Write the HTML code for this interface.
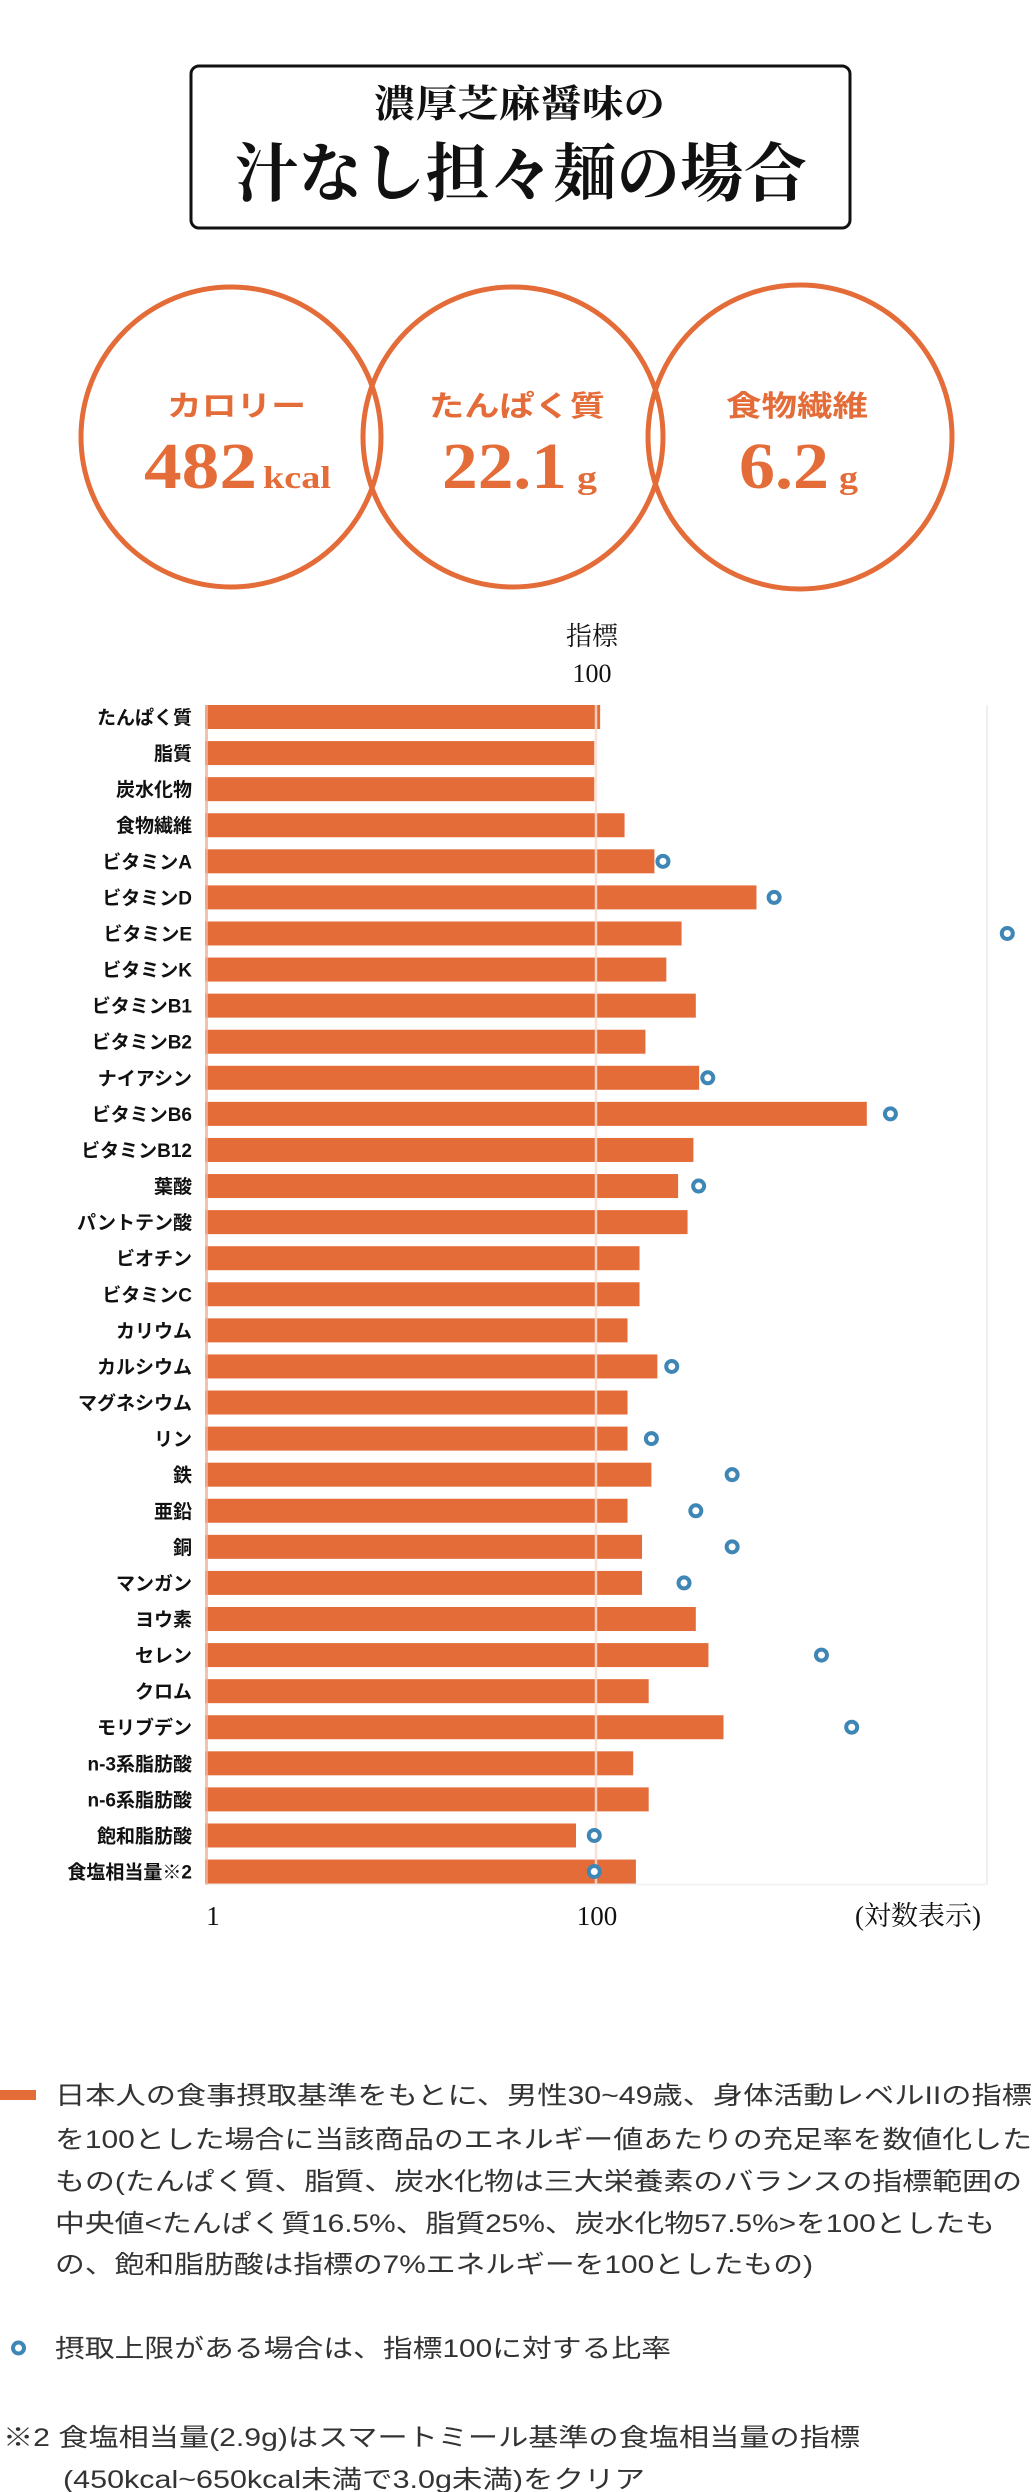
<!DOCTYPE html>
<html><head><meta charset="utf-8"><style>
html,body{margin:0;padding:0;background:#fff;}
svg{display:block;}
.sans{font-family:"Liberation Sans","Noto Sans CJK JP",sans-serif;}
.serif{font-family:"Liberation Serif","Noto Serif CJK SC",serif;}
</style></head><body>
<svg id="page" width="1032" height="2492" viewBox="0 0 1032 2492" xmlns="http://www.w3.org/2000/svg">
<g>
<rect x="191" y="66" width="659" height="162" rx="8" fill="#fff" stroke="#111" stroke-width="3"/>
<text x="374" y="117" class="serif" font-size="38" font-weight="700" fill="#111" textLength="291" lengthAdjust="spacingAndGlyphs">濃厚芝麻醤味の</text>
<text x="235" y="196" class="serif" font-size="64" font-weight="700" fill="#111" textLength="572" lengthAdjust="spacingAndGlyphs">汁なし担々麺の場合</text>
</g>
<g fill="#E46C39">
<circle cx="231" cy="437" r="150" fill="none" stroke="#E46C39" stroke-width="5"/>
<circle cx="513" cy="437" r="150" fill="none" stroke="#E46C39" stroke-width="5"/>
<circle cx="800" cy="437" r="152" fill="none" stroke="#E46C39" stroke-width="5"/>
<text x="167" y="416" class="sans" font-size="29" font-weight="700" textLength="139" lengthAdjust="spacingAndGlyphs">カロリー</text>
<text x="144" y="488" class="serif" font-size="66" font-weight="700" textLength="113" lengthAdjust="spacingAndGlyphs">482</text>
<text x="263" y="488" class="serif" font-size="32" font-weight="700" textLength="68" lengthAdjust="spacingAndGlyphs">kcal</text>
<text x="429" y="416" class="sans" font-size="29" font-weight="700" textLength="176" lengthAdjust="spacingAndGlyphs">たんぱく質</text>
<text x="442" y="488" class="serif" font-size="66" font-weight="700" textLength="125" lengthAdjust="spacingAndGlyphs">22.1</text>
<text x="577" y="488" class="serif" font-size="32" font-weight="700" textLength="20" lengthAdjust="spacingAndGlyphs">g</text>
<text x="726" y="416" class="sans" font-size="29" font-weight="700" textLength="142" lengthAdjust="spacingAndGlyphs">食物繊維</text>
<text x="739" y="488" class="serif" font-size="66" font-weight="700" textLength="90" lengthAdjust="spacingAndGlyphs">6.2</text>
<text x="839" y="488" class="serif" font-size="32" font-weight="700" textLength="19" lengthAdjust="spacingAndGlyphs">g</text>
</g>
<g fill="#111">
<text x="592" y="645" class="serif" font-size="26" text-anchor="middle">指標</text>
<text x="592" y="682" class="serif" font-size="26" text-anchor="middle">100</text>
</g>
<g id="chart"></g>
<g fill="#111">
<text x="213" y="1925" class="serif" font-size="27" text-anchor="middle">1</text>
<text x="597" y="1925" class="serif" font-size="27" text-anchor="middle">100</text>
<text x="918" y="1925" class="serif" font-size="27" text-anchor="middle">(対数表示)</text>
</g>
<g fill="#333" class="sans">
<rect x="0" y="2090" width="36" height="10" fill="#E46C39"/>
<text x="55" y="2104" font-size="25" textLength="977" lengthAdjust="spacingAndGlyphs">日本人の食事摂取基準をもとに、男性30~49歳、身体活動レベルIIの指標</text>
<text x="55" y="2148" font-size="25" textLength="977" lengthAdjust="spacingAndGlyphs">を100とした場合に当該商品のエネルギー値あたりの充足率を数値化した</text>
<text x="55" y="2190" font-size="25" textLength="967" lengthAdjust="spacingAndGlyphs">もの(たんぱく質、脂質、炭水化物は三大栄養素のバランスの指標範囲の</text>
<text x="55" y="2232" font-size="25" textLength="940" lengthAdjust="spacingAndGlyphs">中央値&lt;たんぱく質16.5%、脂質25%、炭水化物57.5%&gt;を100としたも</text>
<text x="55" y="2273" font-size="25" textLength="758" lengthAdjust="spacingAndGlyphs">の、飽和脂肪酸は指標の7%エネルギーを100としたもの)</text>
<circle cx="18.5" cy="2348" r="5.5" fill="#fff" stroke="#3E86B5" stroke-width="4"/>
<text x="55" y="2357" font-size="25" textLength="616" lengthAdjust="spacingAndGlyphs">摂取上限がある場合は、指標100に対する比率</text>
<text x="3" y="2446" font-size="25" textLength="857" lengthAdjust="spacingAndGlyphs">※2 食塩相当量(2.9g)はスマートミール基準の食塩相当量の指標</text>
<text x="63" y="2488" font-size="25" textLength="582" lengthAdjust="spacingAndGlyphs">(450kcal~650kcal未満で3.0g未満)をクリア</text>
</g>
</svg>
<script>
const categories = ["たんぱく質","脂質","炭水化物","食物繊維","ビタミンA","ビタミンD","ビタミンE","ビタミンK","ビタミンB1","ビタミンB2","ナイアシン","ビタミンB6","ビタミンB12","葉酸","パントテン酸","ビオチン","ビタミンC","カリウム","カルシウム","マグネシウム","リン","鉄","亜鉛","銅","マンガン","ヨウ素","セレン","クロム","モリブデン","n-3系脂肪酸","n-6系脂肪酸","飽和脂肪酸","食塩相当量※2"];
const barValues = [105,98,98,140,199,662,274,229,324,179,337,2428,315,263,294,167,167,145,206,145,145,192,145,172,172,324,376,186,449,155,186,79,160];
const upperLimitValues = [null,null,null,null,220,815,12700,null,null,null,373,3206,null,335,null,null,null,null,244,null,192,497,324,497,282,null,1423,null,2032,null,null,98,98];
const tickValues = [1,100,10000];

const NS = "http://www.w3.org/2000/svg";
const X0 = 205, DEC = 195.5, TOP = 705, PITCH = 36.08, BH = 24;
function xScale(v){ return X0 + DEC * Math.log10(v); }
function yScale(i){ return TOP + PITCH * i; }
const chart = document.getElementById("chart");
function mk(tag, attrs){ const e = document.createElementNS(NS, tag); for (const k in attrs) e.setAttribute(k, attrs[k]); return e; }

const bottom = yScale(categories.length - 1) + BH + 1;
const grid = mk("line", {x1: xScale(tickValues[2]), x2: xScale(tickValues[2]), y1: TOP, y2: bottom, stroke: "#efefef", "stroke-width": 2});


chart.appendChild(grid);
const base = mk("line", {x1: X0, x2: xScale(tickValues[2]), y1: bottom, y2: bottom, stroke: "#f3f3f3", "stroke-width": 2});


chart.appendChild(base);

categories.forEach((c, i) => {
  const y = yScale(i);
  const lbl = mk("text", {x: 192, y: y + BH/2 + 7, "text-anchor": "end", "font-size": 19, "font-weight": 700, fill: "#111", class: "sans"});
  lbl.textContent = c;
  
  
  chart.appendChild(lbl);
  const bar = mk("rect", {x: xScale(tickValues[0]), y: y, width: xScale(barValues[i]) - xScale(tickValues[0]), height: BH, fill: "#E46C39"});
  
  
  chart.appendChild(bar);
});

const strip = mk("line", {x1: X0 + 1.5, x2: X0 + 1.5, y1: TOP, y2: bottom, stroke: "#f0b49a", "stroke-width": 3, opacity: 0.8});


chart.appendChild(strip);
const g100 = mk("line", {x1: xScale(tickValues[1]), x2: xScale(tickValues[1]), y1: TOP, y2: bottom, stroke: "#f6ddd1", "stroke-width": 2.5, opacity: 0.85});


chart.appendChild(g100);

upperLimitValues.forEach((v, i) => {
  if (v == null) return;
  const d = mk("circle", {cx: xScale(v), cy: yScale(i) + BH/2, r: 5.5, fill: "#fff", stroke: "#3E86B5", "stroke-width": 4});
  
  
  chart.appendChild(d);
});
</script>
</body></html>
